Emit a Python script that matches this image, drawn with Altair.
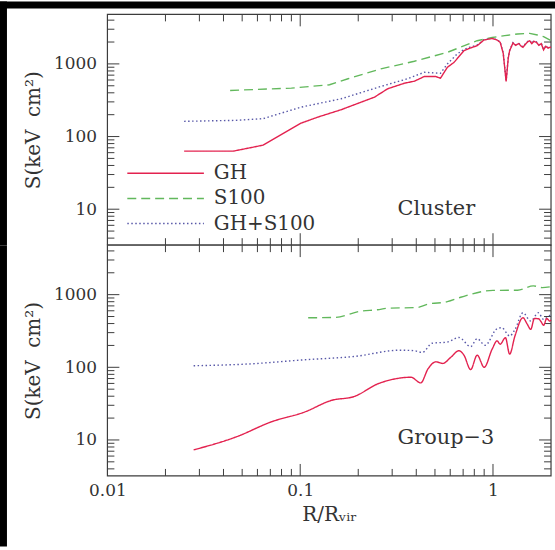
import altair as alt
import pandas as pd

FONT = "DejaVu Serif"
TXT = "#333333"
FRAME = "#3c3c3c"

SERIES = ["GH", "S100", "GH+S100"]
COLORS = ["#e3224f", "#62b85c", "#5858a8"]
DASHES = [[1, 0], [9, 5], [1.5, 2.5]]

R_DOMAIN = [0.01, 2.0]
S_DOMAIN = [3.2, 4800]

X_LABELS = [0.01, 0.1, 1]
Y_LABELS = [10, 100, 1000]
X_MAJOR = [0.1, 1]
X_MINOR = [0.02, 0.03, 0.04, 0.05, 0.06, 0.07, 0.08, 0.09,
           0.2, 0.3, 0.4, 0.5, 0.6, 0.7, 0.8, 0.9]
Y_MAJOR = [10, 100, 1000]
Y_MINOR = [4, 5, 6, 7, 8, 9, 20, 30, 40, 50, 60, 70, 80, 90,
           200, 300, 400, 500, 600, 700, 800, 900, 2000, 3000, 4000]

# ---- Cluster panel ----
cl_gh_r = [0.025, 0.045, 0.064, 0.101, 0.124, 0.163, 0.243, 0.284, 0.347, 0.391,
           0.44, 0.505, 0.534, 0.58, 0.628, 0.707, 0.76, 0.828, 0.897, 0.99,
           1.05, 1.09, 1.13, 1.17, 1.2, 1.22, 1.27, 1.31, 1.36, 1.40,
           1.43, 1.47, 1.51, 1.55, 1.59, 1.63, 1.68, 1.73, 1.78, 1.83,
           1.88, 1.93, 1.97, 2.0]
cl_gh_s = [63, 63, 76, 153, 186, 234, 349, 454, 542, 578,
           670, 670, 635, 898, 1050, 1520, 1650, 1780, 2130, 2240,
           2130, 1980, 1400, 573, 1200, 1520, 1940, 1800, 1900, 1750,
           1690, 1850, 2000, 2080, 1900, 2050, 1980, 1800, 1900, 1560,
           1750, 1650, 1690, 1700]

cl_s100_r = [0.0433, 0.09, 0.142, 0.177, 0.262, 0.391, 0.58, 0.828, 0.99, 1.15,
             1.34, 1.55, 1.7, 1.83, 2.0]
cl_s100_s = [431, 464, 516, 624, 855, 1086, 1443, 2086, 2310, 2450,
             2580, 2630, 2500, 2370, 2090]

cl_mix_r = [0.025, 0.046, 0.064, 0.101, 0.163, 0.262, 0.36, 0.44, 0.534, 0.58,
            0.652, 0.707, 0.76, 0.828, 0.897, 0.99, 1.05, 1.09, 1.13, 1.17,
            1.2, 1.22, 1.27, 1.31, 1.36, 1.40, 1.43, 1.47, 1.51, 1.55,
            1.59, 1.63, 1.68, 1.73, 1.78, 1.83, 1.88, 1.93, 1.97, 2.0]
cl_mix_s = [162, 167, 176, 254, 331, 489, 624, 767, 743, 1000,
            1370, 1580, 1700, 1820, 2150, 2260, 2150, 2000, 1420, 590,
            1220, 1540, 1960, 1830, 1930, 1780, 1720, 1880, 2030, 2110,
            1930, 2080, 2010, 1830, 1930, 1590, 1780, 1680, 1720, 1730]

# ---- Group-3 panel ----
gr_gh_r = [0.028, 0.0469, 0.071, 0.1057, 0.145, 0.191, 0.252, 0.308, 0.375, 0.422,
           0.46, 0.506, 0.55, 0.6, 0.666, 0.707, 0.766, 0.828, 0.9, 0.99,
           1.05, 1.09, 1.16, 1.22, 1.3, 1.43, 1.5, 1.57, 1.64, 1.72,
           1.78, 1.83, 1.9, 1.97, 2.0]
gr_gh_s = [7.3, 11.1, 17.8, 24.3, 35, 39.7, 59, 69, 73, 61,
           95, 119, 113, 135, 169, 147, 93, 147, 100, 178,
           231, 208, 256, 152, 270, 481, 400, 333, 470, 466,
           420, 378, 470, 433, 450]

gr_s100_r = [0.11, 0.151, 0.207, 0.252, 0.284, 0.404, 0.46, 0.58, 0.68, 1.0,
             1.34, 1.62, 1.8, 1.97]
gr_s100_s = [481, 485, 593, 620, 650, 665, 740, 800, 920, 1145,
             1150, 1320, 1250, 1280]

gr_mix_r = [0.028, 0.0535, 0.106, 0.191, 0.33, 0.391, 0.43, 0.483, 0.58, 0.666,
            0.766, 0.828, 0.91, 1.05, 1.11, 1.22, 1.3, 1.43, 1.57, 1.72,
            1.83, 1.97, 2.0]
gr_mix_s = [105, 111, 127, 141, 172, 169, 160, 214, 223, 257,
            193, 248, 201, 340, 351, 270, 330, 563, 433, 563,
            456, 516, 520]

# ---- layout (pixels) ----
VIEW_W = 553          # view width (canvas 0..553)
X0, X1 = 108, 554     # plot frame x inside the view
EDGE = 7              # dark border of the scanned page (left / top)
TOP_H = 245           # top view height (canvas 0..245)
TOP_Y0, TOP_Y1 = 13, 245
BOT_H = 303           # bottom view height (canvas 245..548)
BOT_Y0, BOT_Y1 = 0, 232
MAJ, MIN = 12, 7


def long_df(parts):
    frames = []
    for name, r, s in parts:
        frames.append(pd.DataFrame({"R": r, "S": s, "series": name,
                                    "i": list(range(len(r)))}))
    return pd.concat(frames, ignore_index=True)


def xenc(show, view_h, y1):
    if show:
        axis = alt.Axis(values=X_LABELS, format="~g", title="R/Rᵥᵢᵣ",
                        ticks=False, domain=False, grid=False, labelFlush=False,
                        labelOverlap=False, labelFont=FONT, labelFontSize=17,
                        labelColor=TXT, labelPadding=7, titleFont=FONT,
                        titleFontSize=20, titleFontWeight="normal", titleColor=TXT,
                        titlePadding=6, offset=-(view_h - y1))
    else:
        axis = None
    return alt.X("R:Q", axis=axis,
                 scale=alt.Scale(type="log", domain=R_DOMAIN, nice=False, range=[X0, X1]))


def yenc(y0, y1):
    axis = alt.Axis(values=Y_LABELS, format="~g", title="S(keV\u00a0 cm²)",
                    ticks=False, domain=False, grid=False, labelFlush=False,
                    labelOverlap=False, labelFont=FONT, labelFontSize=17,
                    labelColor=TXT, labelPadding=11, titleFont=FONT,
                    titleFontSize=20, titleFontWeight="normal", titleColor=TXT,
                    titlePadding=10, offset=-X0)
    return alt.Y("S:Q", axis=axis,
                 scale=alt.Scale(type="log", domain=S_DOMAIN, nice=False, range=[y1, y0]))


def color_enc():
    return alt.Color("series:N", scale=alt.Scale(domain=SERIES, range=COLORS), legend=None)


def dash_enc():
    return alt.StrokeDash("series:N", scale=alt.Scale(domain=SERIES, range=DASHES), legend=None)


def dark_rect(x, x2, y, y2):
    return alt.Chart(pd.DataFrame({"k": [0]})).mark_rect(color="black").encode(
        x=alt.value(x), x2=alt.value(x2), y=alt.value(y), y2=alt.value(y2))


def panel(df, label, label_s, show_x, view_h, y0, y1, legend, top_edge, interp):
    X = xenc(show_x, view_h, y1)
    Y = yenc(y0, y1)
    layers = [dark_rect(0, EDGE, 0, view_h)]
    if top_edge:
        layers.append(dark_rect(0, VIEW_W + 5, 0, EDGE))
    # frame
    layers.append(
        alt.Chart(pd.DataFrame({"k": [0]})).mark_rect(
            fill="transparent", stroke=FRAME, strokeWidth=1.2).encode(
            x=alt.value(X0), x2=alt.value(X1), y=alt.value(y0), y2=alt.value(y1))
    )
    # inward ticks on all four sides
    for vals, ln in ((X_MAJOR, MAJ), (X_MINOR, MIN)):
        base = alt.Chart(pd.DataFrame({"R": vals})).mark_rule(color=FRAME, strokeWidth=1)
        layers.append(base.encode(x=X, y=alt.value(y0), y2=alt.value(y0 + ln)))
        layers.append(base.encode(x=X, y=alt.value(y1), y2=alt.value(y1 - ln)))
    for vals, ln in ((Y_MAJOR, MAJ), (Y_MINOR, MIN)):
        base = alt.Chart(pd.DataFrame({"S": vals})).mark_rule(color=FRAME, strokeWidth=1)
        layers.append(base.encode(y=Y, x=alt.value(X0), x2=alt.value(X0 + ln)))
        layers.append(base.encode(y=Y, x=alt.value(X1), x2=alt.value(X1 - ln)))
    # data lines
    layers.append(
        alt.Chart(df).mark_line(strokeWidth=1.4, interpolate=interp).encode(
            x=X, y=Y, color=color_enc(), strokeDash=dash_enc(), order="i:Q")
    )
    # panel label
    layers.append(
        alt.Chart(pd.DataFrame({"R": [0.32], "S": [label_s], "t": [label]})).mark_text(
            align="left", baseline="middle", font=FONT, fontSize=21, color=TXT).encode(
            x=X, y=Y, text="t:N")
    )
    # legend drawn inside the panel
    if legend:
        for k, name in enumerate(SERIES):
            ly = 172.7 + k * 25.3
            d = pd.DataFrame({"series": [name]})
            layers.append(
                alt.Chart(d).mark_rule(strokeWidth=1.5).encode(
                    x=alt.value(X0 + 20), x2=alt.value(X0 + 97), y=alt.value(ly),
                    color=color_enc(), strokeDash=dash_enc())
            )
            layers.append(
                alt.Chart(d).mark_text(align="left", baseline="middle", font=FONT,
                                       fontSize=20, color=TXT).encode(
                    x=alt.value(X0 + 107), y=alt.value(ly), text="series:N")
            )
    return alt.layer(*layers).properties(width=VIEW_W, height=view_h)


cluster = long_df([("GH+S100", cl_mix_r, cl_mix_s), ("S100", cl_s100_r, cl_s100_s),
                   ("GH", cl_gh_r, cl_gh_s)])
group = long_df([("GH+S100", gr_mix_r, gr_mix_s), ("S100", gr_s100_r, gr_s100_s),
                 ("GH", gr_gh_r, gr_gh_s)])

top = panel(cluster, "Cluster", 10, False, TOP_H, TOP_Y0, TOP_Y1, True, True, "linear")
bottom = panel(group, "Group−3", 10.5, True, BOT_H, BOT_Y0, BOT_Y1, False, False, "monotone")

chart = alt.vconcat(top, bottom, spacing=0).properties(
    bounds="flush",
    background="white",
    padding=0,
).configure_view(
    strokeWidth=0, fill="white"
).configure_axis(zindex=1)

chart.save("out.html", embed_options={"renderer": "svg", "actions": False})
